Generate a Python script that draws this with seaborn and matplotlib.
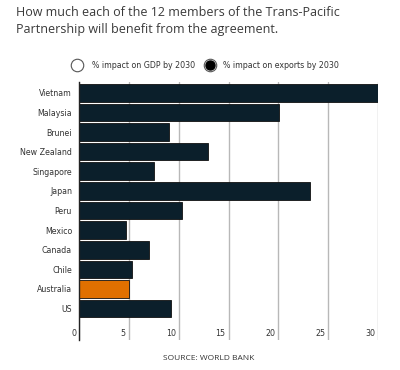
import matplotlib
matplotlib.use("Agg")
import matplotlib.pyplot as plt
import matplotlib.font_manager as fm
from matplotlib.lines import Line2D
import pandas as pd
import seaborn as sns

countries = ["Vietnam", "Malaysia", "Brunei", "New Zealand", "Singapore", "Japan",
             "Peru", "Mexico", "Canada", "Chile", "Australia", "US"]
export_impact = [30.0, 20.1, 9.0, 12.9, 7.5, 23.2, 10.3, 4.7, 7.0, 5.3, 5.0, 9.2]
x_ticks = [0, 5, 10, 15, 20, 25, 30]

navy = "#0b1f2b"
orange = "#e07000"
colors = {c: (orange if c == "Australia" else navy) for c in countries}

# condensed face for the small labels
narrow = dict(family="DejaVu Sans", stretch="condensed")
names = {f.name for f in fm.fontManager.ttflist}
if "Liberation Sans Narrow" in names:
    narrow = dict(family="Liberation Sans Narrow")

sns.set_style("white")
plt.rcParams["font.family"] = ["Open Sans", "DejaVu Sans"]

df = pd.DataFrame({"country": countries, "impact": export_impact})

fig = plt.figure(figsize=(4.0, 3.7), dpi=100)
ax = fig.add_axes([79 / 400, 30 / 370, 299 / 400, 258 / 370])

sns.barplot(data=df, x="impact", y="country", hue="country", palette=colors,
            legend=False, width=0.9, edgecolor="#111111", linewidth=0.6,
            saturation=1, ax=ax, zorder=3)

ax.set_xlim(0, 30)
ax.set_ylim(12.6, -0.55)
ax.set_xlabel("")
ax.set_ylabel("")
ax.set_xticks(x_ticks)
ax.set_xticklabels([])
ax.tick_params(axis="x", length=0)
ax.set_axisbelow(True)
ax.grid(axis="x", color="#b8b8b8", lw=1.0)
ax.grid(axis="y", visible=False)
ax.set_yticks(range(len(countries)))
ax.set_yticklabels(countries, fontsize=6.3, color="#333333", **narrow)
ax.tick_params(axis="y", length=0, pad=5)
for s in ["top", "right", "bottom"]:
    ax.spines[s].set_visible(False)
ax.spines["left"].set_color("#222222")
ax.spines["left"].set_linewidth(1.0)
ax.spines["left"].set_zorder(4)

for t in x_ticks:
    ax.text(t - 0.3, 12.25, str(t), ha="right", va="center", fontsize=6.3,
            color="#333333", **narrow)

fig.text(16 / 400, 1 - 12 / 370, "How much each of the 12 members of the Trans-Pacific",
         fontsize=9, color="#3a3a3a", va="center", ha="left")
fig.text(16 / 400, 1 - 30 / 370, "Partnership will benefit from the agreement.",
         fontsize=9, color="#3a3a3a", va="center", ha="left")

# radio-button style legend
ly = 1 - 65 / 370
fig.add_artist(Line2D([77 / 400], [ly], marker="o", markersize=9, markerfacecolor="white",
                      markeredgecolor="#555555", markeredgewidth=0.8,
                      transform=fig.transFigure))
fig.text(92 / 400, ly, "% impact on GDP by 2030", fontsize=6.3,
         color="#333333", va="center", ha="left", **narrow)
fig.add_artist(Line2D([210 / 400], [ly], marker="o", markersize=9, markerfacecolor="white",
                      markeredgecolor="#555555", markeredgewidth=0.8,
                      transform=fig.transFigure))
fig.add_artist(Line2D([210 / 400], [ly], marker="o", markersize=6.5, markerfacecolor="#000000",
                      markeredgecolor="#000000", transform=fig.transFigure))
fig.text(223 / 400, ly, "% impact on exports by 2030", fontsize=6.3,
         color="#333333", va="center", ha="left", **narrow)

fig.text(209 / 400, 1 - 359 / 370, "SOURCE: WORLD BANK", fontsize=6, color="#333333",
         va="center", ha="center")

fig.savefig("out.png", dpi=100)
